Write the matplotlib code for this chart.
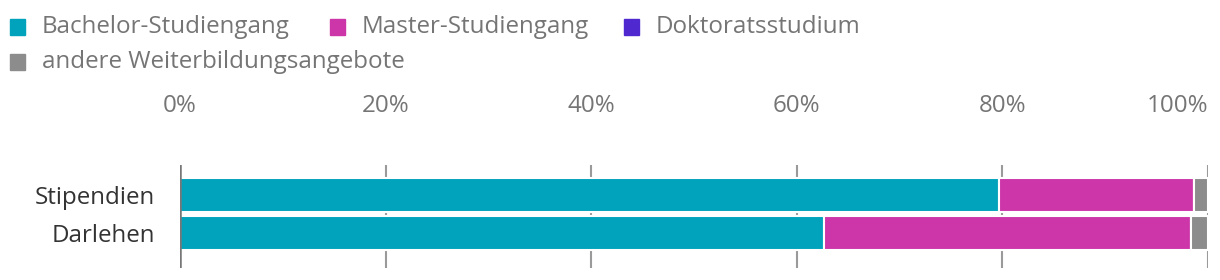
import matplotlib
matplotlib.use("Agg")
import matplotlib.pyplot as plt
from matplotlib.patches import Rectangle

plt.rcParams['font.family'] = ['Open Sans', 'DejaVu Sans']

# Daten
kategorien = ['Stipendien', 'Darlehen']
serien = ['Bachelor-Studiengang', 'Master-Studiengang', 'Doktoratsstudium',
          'andere Weiterbildungsangebote']
bachelor = [79.7, 62.6]
master = [18.9, 35.7]
doktorat = [0.0, 0.0]
andere = [1.4, 1.7]
ticks = [0, 20, 40, 60, 80, 100]

farben = ['#00a3bb', '#cc36a9', '#5028d0', '#8c8c8c']
werte = [bachelor, master, doktorat, andere]

fs = 17.4

fig = plt.figure(figsize=(12.2, 2.8), dpi=100)
ax = fig.add_axes([180 / 1220, 1 - 268 / 280, 1028 / 1220, (268 - 165) / 280])

y = [0, 1]
links = [0.0, 0.0]
for s, f, w in zip(serien, farben, werte):
    ax.barh(y, w, left=links, height=0.92, color=f, edgecolor='white',
            linewidth=1.5, zorder=3)
    links = [a + b for a, b in zip(links, w)]

# 1 Kategorie = 38 px, Achse 103 px hoch
ax.set_ylim(1 + (268 - 233) / 38, -(195 - 165) / 38)
ax.set_xlim(0, 100)
ax.set_yticks(y)
ax.set_yticklabels(kategorien, fontsize=fs, color='#333333')
ax.set_xticks(ticks)
# letztes Label rechtsbündig, damit es nicht abgeschnitten wird
ax.set_xticklabels([f'{t}%' for t in ticks[:-1]] + [''], fontsize=fs, color='#757575')
ax.annotate(f'{ticks[-1]}%', xy=(ticks[-1], 1), xycoords=('data', 'axes fraction'),
            xytext=(0, 34), textcoords='offset points', ha='right', va='bottom',
            fontsize=fs, color='#757575')
ax.xaxis.tick_top()
ax.tick_params(axis='x', length=0, pad=34)
ax.tick_params(axis='y', length=0, pad=18)
ax.grid(axis='x', color='#9a9a9a', linewidth=1.5, zorder=1)
ax.axvline(0, color='#777777', linewidth=1.8, zorder=4)
for sp in ax.spines.values():
    sp.set_visible(False)

# Legende
leg_pos = [(10, 27), (330, 27), (624, 27), (10, 62)]
for (lx, ly), s, f in zip(leg_pos, serien, farben):
    fig.patches.append(Rectangle((lx / 1220, 1 - (ly + 7.5) / 280), 15 / 1220, 15 / 280,
                                 transform=fig.transFigure, color=f))
    fig.text((lx + 32) / 1220, 1 - ly / 280, s, fontsize=fs, color='#757575',
             va='center', ha='left')

fig.savefig('out.png', dpi=100)
